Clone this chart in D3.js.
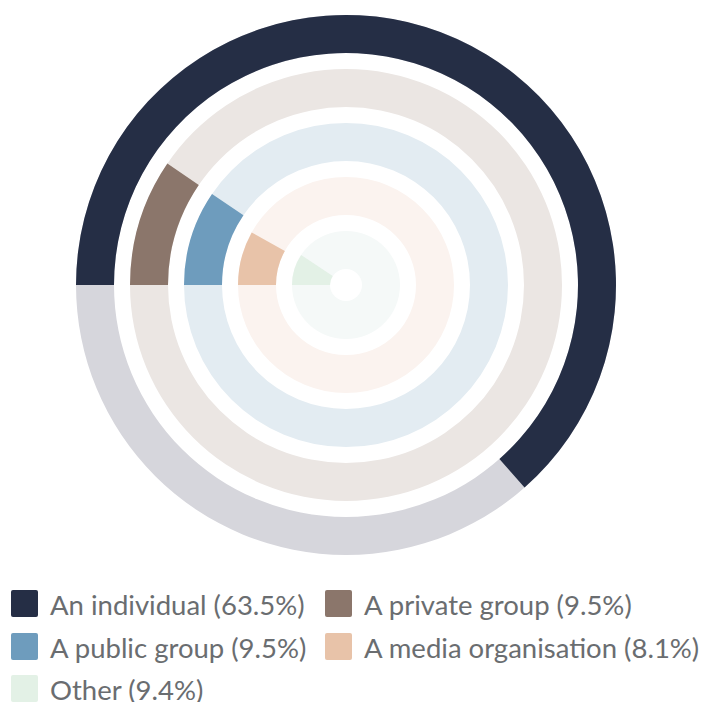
<!DOCTYPE html>
<html>
<head>
<meta charset="utf-8">
<script src="https://cdn.jsdelivr.net/npm/d3@7"></script>
<style>
  html, body { margin: 0; padding: 0; background: #ffffff; }
  svg { display: block; }
</style>
</head>
<body>
<svg id="chart" width="703" height="702"></svg>
<script>
// Share of respondents by type of source, one ring per category (outer to inner)
const categories = ["An individual", "A private group", "A public group", "A media organisation", "Other"];
const values = [63.5, 9.5, 9.5, 8.1, 9.4];
const colors = ["#252e45", "#8b766b", "#6e9cbd", "#e8c3a9", "#e3f1e6"];
const trackColors = ["#d6d6dc", "#ebe6e3", "#e3ecf2", "#fbf3ef", "#f5f9f8"];

const svg = d3.select("#chart");
const cx = 346, cy = 285;
const outerR = 270, ringStep = 54, bandWidth = 38;

// Ring index -> outer radius
const rScale = d3.scaleLinear().domain([0, 1]).range([outerR, outerR - ringStep]);
// Percent -> angle, starting at 9 o'clock and running clockwise
const aScale = d3.scaleLinear().domain([0, 100]).range([-Math.PI / 2, 1.5 * Math.PI]);

const arc = d3.arc()
  .outerRadius(d => rScale(d.i))
  .innerRadius(d => rScale(d.i) - bandWidth);

const g = svg.append("g").attr("transform", `translate(${cx},${cy})`);

const rows = categories.map((c, i) => ({ i, name: c, value: values[i] }));

g.selectAll("path.track")
  .data(rows)
  .join("path")
  .attr("class", "track")
  .attr("fill", d => trackColors[d.i])
  .attr("d", d => arc({ ...d, startAngle: 0, endAngle: 2 * Math.PI }));

g.selectAll("path.bar")
  .data(rows)
  .join("path")
  .attr("class", "bar")
  .attr("fill", d => colors[d.i])
  .attr("d", d => arc({ ...d, startAngle: aScale(0), endAngle: aScale(d.value) }));

// Legend: two columns, wrapping rows
const legend = svg.append("g").attr("font-family", "Lato, sans-serif");
const colX = [11, 325], rowY = [590, 633, 675], sq = 27;
rows.forEach((d, k) => {
  const x = colX[k % 2], y = rowY[Math.floor(k / 2)];
  const item = legend.append("g").attr("transform", `translate(${x},${y})`);
  item.append("rect")
    .attr("width", sq).attr("height", sq).attr("rx", 2)
    .attr("fill", colors[d.i]);
  item.append("text")
    .attr("x", sq + 12).attr("y", 25)
    .attr("font-size", 27.5)
    .attr("fill", "#6a6d70")
    .text(`${d.name} (${d.value.toFixed(1)}%)`);
});
</script>
</body>
</html>
